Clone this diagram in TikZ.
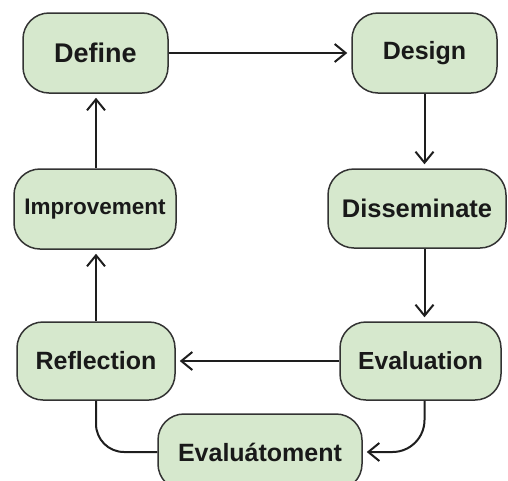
\documentclass[tikz,border=0pt]{standalone}
\usepackage{fontspec}
\setmainfont{Liberation Sans}
\usetikzlibrary{arrows.meta,calc}

\definecolor{boxfill}{HTML}{D6E8CD}
\definecolor{boxline}{HTML}{333333}
\definecolor{arrowline}{HTML}{1E1E1E}

\newcommand{\labsize}[1]{\fontsize{#1}{#1}\selectfont}

\tikzset{
  stage/.style={draw=boxline, fill=boxfill, line width=1.5pt,
    rounded corners=26pt, text=black!90, inner sep=0pt},
  flow/.style={draw=arrowline, line width=2pt,
    -{Straight Barb[length=11pt,width=18pt]}, shorten >=4pt},
  link/.style={draw=arrowline, line width=2pt},
}

\begin{document}
\begin{tikzpicture}[x=1pt,y=-1pt]
  \clip (0,0) rectangle (508,480);

  % stages of the cycle
  \node[stage, minimum width=145pt, minimum height=80pt,
        font=\bfseries\labsize{27}] (def) at (95.5,53) {Define};
  \node[stage, minimum width=145pt, minimum height=80pt,
        font=\bfseries\labsize{25}] (des) at (424.5,53) {Design};
  \node[stage, minimum width=162pt, minimum height=80pt,
        font=\bfseries\labsize{22.5}] (imp) at (95,209) {Improvement};
  \node[stage, minimum width=178pt, minimum height=79pt,
        font=\bfseries\labsize{25.5}] (dis) at (417,208.5) {Disseminate};
  \node[stage, minimum width=158pt, minimum height=78pt,
        font=\bfseries\labsize{25}] (ref) at (96,361) {Reflection};
  \node[stage, minimum width=161pt, minimum height=78pt,
        font=\bfseries\labsize{24.7}] (eva) at (420.5,361) {Evaluation};
  \node[stage, minimum width=204pt, minimum height=76pt,
        font=\bfseries\labsize{25}] (evt) at (260,452) {Evaluátoment};

  % connectors
  \draw[flow] (def.east) -- (des.west);
  \draw[flow] (des.south) -- (des.south |- dis.north);
  \draw[flow] (dis.south -| des.south) -- (eva.north -| des.south);
  \draw[flow] (eva.west) -- (ref.east);
  \draw[flow] (ref.north) -- (imp.south -| ref.north);
  \draw[flow] (imp.north -| ref.north) -- (def.south -| ref.north);
  \draw[link, rounded corners=28pt] (ref.south) |- (evt.west);
  \draw[flow, rounded corners=32pt] (eva.south -| des.south) |- (evt.east);
\end{tikzpicture}
\end{document}
